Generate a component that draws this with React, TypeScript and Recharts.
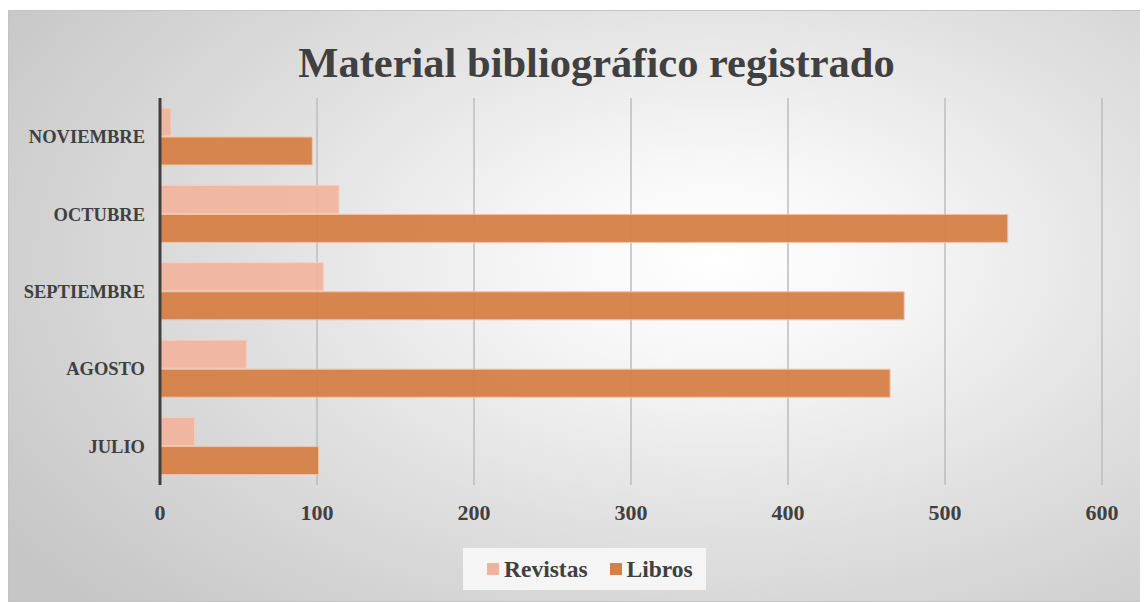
import { BarChart, Bar, XAxis, YAxis, CartesianGrid, Legend } from 'recharts'

const months = ['NOVIEMBRE', 'OCTUBRE', 'SEPTIEMBRE', 'AGOSTO', 'JULIO']
const revistas = [7, 114, 104, 55, 22]
const libros = [97, 540, 474, 465, 101]
const xTicks = [0, 100, 200, 300, 400, 500, 600]

const SERIF = '"Liberation Serif", "Times New Roman", serif'
const TEXT = '#404040'
const C_REV = '#F2B29B'
const C_LIB = '#D68046'

const data = months.map((m, i) => ({ mes: m, Revistas: revistas[i], Libros: libros[i] }))

function LegendBox() {
  const item = (color: string, label: string, gap: number) => (
    <span style={{ display: 'inline-flex', alignItems: 'center', marginRight: gap }}>
      <span style={{ width: 12, height: 12, background: color, display: 'inline-block', marginRight: 5 }} />
      <span>{label}</span>
    </span>
  )
  return (
    <div style={{
      background: '#f5f5f5', height: 42, display: 'flex', alignItems: 'center', paddingLeft: 24,
      fontFamily: SERIF, fontWeight: 700, fontSize: 23.5, color: TEXT, boxSizing: 'border-box',
    }}>
      {item(C_REV, 'Revistas', 22)}
      {item(C_LIB, 'Libros', 0)}
    </div>
  )
}

export default function App() {
  return (
    <div style={{
      position: 'relative', width: 1140, height: 592, marginTop: 2,
      border: '1px solid #c4c4c4', boxSizing: 'border-box',
      background: 'radial-gradient(ellipse 75% 85% at 62% 42%, #ffffff 0%, #f7f7f7 20%, #e0e0e0 55%, #c6c6c6 100%)',
    }}>
      <div style={{
        position: 'absolute', left: 287, width: 601, top: 30, textAlign: 'center',
        fontFamily: SERIF, fontWeight: 700, fontSize: 42.5, lineHeight: '43px', color: TEXT, whiteSpace: 'nowrap',
      }}>
        Material bibliográfico registrado
      </div>
      <BarChart
        width={1140}
        height={592}
        data={data}
        layout="vertical"
        margin={{ top: 88, right: 46, left: 0, bottom: 35 }}
        barSize={28}
        barGap={1}
        style={{ position: 'absolute', left: -1, top: -1 }}
      >
        <CartesianGrid horizontal={false} stroke="#bdbdbd" strokeWidth={1.5} />
        <XAxis
          type="number"
          domain={[0, 600]}
          ticks={xTicks}
          axisLine={false}
          tickLine={false}
          tickSize={10}
          tickMargin={9}
          height={40}
          tick={{ fill: TEXT, fontSize: 22, fontWeight: 700, fontFamily: SERIF }}
        />
        <YAxis
          type="category"
          dataKey="mes"
          width={152}
          axisLine={{ stroke: '#404040', strokeWidth: 3 }}
          tickLine={false}
          tickMargin={9}
          tick={{ fill: TEXT, fontSize: 18.5, fontWeight: 700, fontFamily: SERIF }}
        />
        <Legend
          content={<LegendBox />}
          wrapperStyle={{ left: 455, top: 538, width: 243, height: 42, bottom: 'auto' }}
        />
        <Bar dataKey="Revistas" fill={C_REV} fillOpacity={0.9} stroke="#f7cdb9" strokeWidth={1} isAnimationActive={false} />
        <Bar dataKey="Libros" fill={C_LIB} fillOpacity={0.95} stroke="#f3c3a4" strokeWidth={1} isAnimationActive={false} />
      </BarChart>
    </div>
  )
}
